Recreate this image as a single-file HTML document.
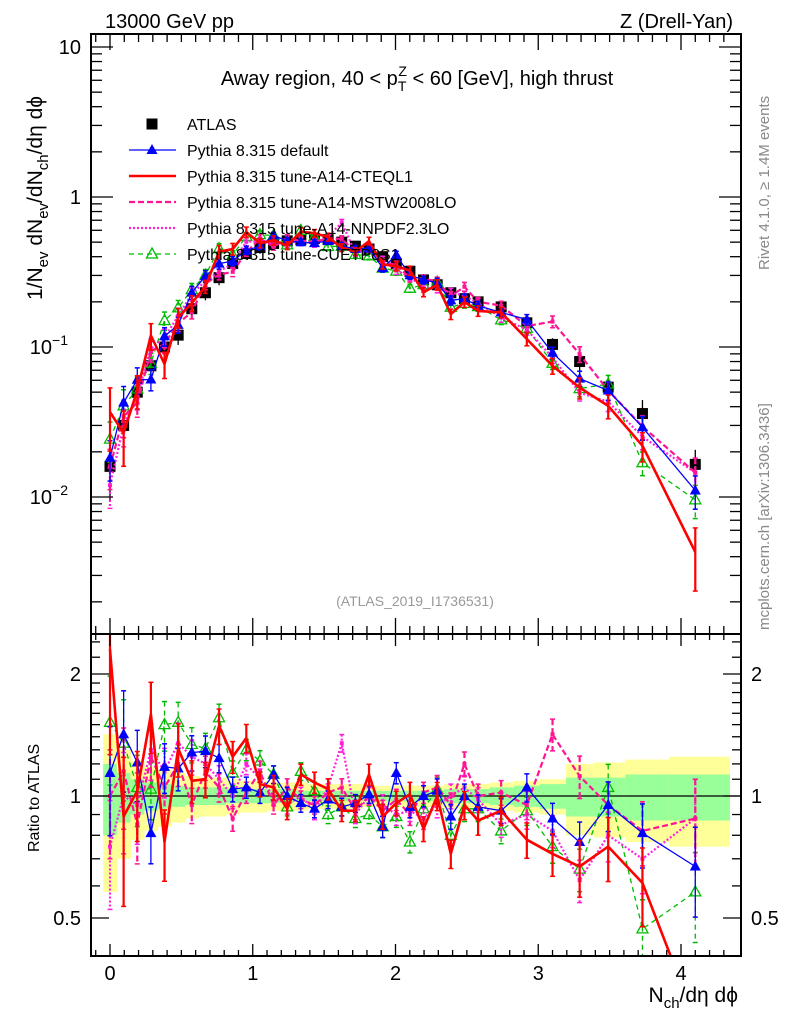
<!DOCTYPE html>
<html><head><meta charset="utf-8"><style>
html,body{margin:0;padding:0;background:#fff;width:786px;height:1024px;overflow:hidden;}
svg{display:block;font-family:"Liberation Sans",sans-serif;}
</style></head><body>
<svg id="c" width="786" height="1024" viewBox="0 0 786 1024" xmlns="http://www.w3.org/2000/svg">
<defs>
<clipPath id="clipMain"><rect x="91" y="34" width="650" height="600"/></clipPath>
<clipPath id="clipRatio"><rect x="91" y="634" width="650" height="322"/></clipPath>
</defs>
<rect x="0" y="0" width="786" height="1024" fill="#fff"/>
<g id="bands" clip-path="url(#clipRatio)"></g>
<line x1="91" x2="741" y1="796" y2="796" stroke="#000" stroke-width="1.2"/>
<g id="mainMarks" clip-path="url(#clipMain)"></g>
<g id="ratioMarks" clip-path="url(#clipRatio)"></g>
<g id="axes"></g>
<rect x="91" y="34" width="650" height="600" fill="none" stroke="#000" stroke-width="2"/>
<rect x="91" y="634" width="650" height="322" fill="none" stroke="#000" stroke-width="2"/>

<text x="105" y="28" font-size="20">13000 GeV pp</text>
<text x="733" y="28" font-size="20" text-anchor="end">Z (Drell-Yan)</text>
<text x="417" y="85" font-size="20" text-anchor="middle">Away region, 40 &lt; p<tspan font-size="14" dy="6">T</tspan><tspan font-size="14" dx="-8" dy="-15">Z</tspan><tspan dy="9"> &lt; 60 [GeV], high thrust</tspan></text>
<text x="415" y="606" font-size="14" fill="#999" text-anchor="middle">(ATLAS_2019_I1736531)</text>

<text transform="translate(42,300) rotate(-90)" font-size="21">1/N<tspan font-size="15" dy="6">ev</tspan><tspan dy="-6"> dN</tspan><tspan font-size="15" dy="6">ev</tspan><tspan dy="-6">/dN</tspan><tspan font-size="15" dy="6">ch</tspan><tspan dy="-6">/dη dϕ</tspan></text>
<text transform="translate(39,852) rotate(-90)" font-size="16">Ratio to ATLAS</text>
<text x="738" y="1002" font-size="21" text-anchor="end">N<tspan font-size="15" dy="6">ch</tspan><tspan dy="-6">/dη dϕ</tspan></text>
<text transform="translate(769,270) rotate(-90)" font-size="15" fill="#888">Rivet 4.1.0, ≥ 1.4M events</text>
<text transform="translate(769,630) rotate(-90)" font-size="15" fill="#888">mcplots.cern.ch [arXiv:1306.3436]</text>

<g id="legend"></g>
</svg>
<script>
const xs = [0,0.0955,0.191,0.2865,0.382,0.4775,0.573,0.6685,0.764,0.8595,0.955,1.0505,1.146,1.2415,1.337,1.4325,1.528,1.6235,1.719,1.8145,1.91,2.0055,2.101,2.1965,2.292,2.3875,2.483,2.5785,2.74,2.92,3.10,3.29,3.49,3.73,4.10];
const atlas = [0.016,0.030,0.050,0.075,0.10,0.12,0.18,0.23,0.29,0.36,0.42,0.46,0.49,0.51,0.52,0.53,0.52,0.50,0.47,0.45,0.40,0.36,0.32,0.28,0.26,0.23,0.21,0.20,0.185,0.145,0.104,0.080,0.054,0.036,0.0165];
const bandYellow = [0.42,0.30,0.22,0.18,0.16,0.14,0.12,0.11,0.11,0.10,0.09,0.09,0.08,0.08,0.08,0.07,0.07,0.07,0.07,0.06,0.06,0.06,0.06,0.06,0.06,0.07,0.07,0.07,0.08,0.09,0.10,0.20,0.21,0.23,0.25];
const bandGreen = [0.20,0.14,0.10,0.08,0.07,0.06,0.05,0.05,0.05,0.04,0.04,0.04,0.04,0.04,0.03,0.03,0.03,0.03,0.03,0.03,0.03,0.03,0.03,0.03,0.03,0.04,0.04,0.04,0.05,0.06,0.07,0.11,0.11,0.13,0.13];
const ratioDefault = [1.14,1.42,1.21,0.81,1.18,1.17,1.28,1.29,1.24,1.04,1.05,1.02,1.13,1.0,0.96,0.93,0.98,0.94,0.96,1.01,0.84,1.14,0.94,1.0,1.03,0.89,1.0,0.94,0.92,1.05,0.88,0.77,0.95,0.81,0.67];
const ratioCTEQ = [2.3,0.89,1.03,1.59,0.77,1.31,1.09,1.10,1.49,1.25,1.39,1.07,1.05,0.93,1.13,1.08,1.04,0.92,0.92,1.13,0.89,0.96,1.01,0.83,1.0,0.72,0.95,0.87,0.92,0.78,0.72,0.67,0.75,0.61,0.26];
const ratioMSTW = [1.0,1.15,0.85,1.25,1.05,1.2,0.95,1.15,1.05,0.88,1.02,1.15,0.95,1.05,0.98,0.95,1.02,1.05,0.92,1.0,0.92,0.98,0.90,1.02,1.05,0.95,1.2,1.0,1.02,0.95,1.42,1.12,0.95,0.82,0.88];
const ratioNNPDF = [0.75,1.0,0.95,1.3,1.15,1.35,1.25,1.2,1.1,1.0,1.2,1.1,1.0,0.95,1.0,0.92,1.05,1.35,0.9,1.0,0.95,0.9,0.92,0.88,0.95,1.0,1.05,0.98,0.85,0.9,0.82,0.62,0.8,0.70,0.88];
const ratioCUETP = [1.52,1.35,1.05,1.04,1.50,1.52,1.34,1.31,1.56,1.14,1.30,1.22,1.13,0.94,1.15,1.03,0.90,0.94,0.88,0.90,0.84,0.89,0.77,0.93,1.04,0.80,0.93,0.93,0.82,0.92,0.75,0.66,1.05,0.47,0.58];
const mcErr = [0.30,0.28,0.20,0.16,0.14,0.12,0.10,0.09,0.08,0.07,0.06,0.06,0.05,0.05,0.05,0.05,0.05,0.05,0.05,0.05,0.06,0.06,0.06,0.06,0.07,0.07,0.07,0.07,0.07,0.08,0.09,0.12,0.14,0.18,0.25];
const redErr = [0.45,0.40,0.25,0.20,0.20,0.15,0.12,0.10,0.10,0.09,0.08,0.07,0.07,0.06,0.06,0.06,0.06,0.06,0.06,0.06,0.07,0.07,0.07,0.07,0.08,0.08,0.08,0.08,0.08,0.10,0.12,0.16,0.18,0.22,0.45];
const xTicks = ["0","1","2","3","4"];
const mainYTicks = [{v:10,t:"10"},{v:1,t:"1"},{v:0.1,t:"10",e:"−1"},{v:0.01,t:"10",e:"−2"}];
const ratioYTicks = [{v:2,t:"2"},{v:1,t:"1"},{v:0.5,t:"0.5"}];

const NS="http://www.w3.org/2000/svg";
const X = u => 110 + 142.75*u;
const clampY = y => Math.max(20, Math.min(1020, y));
const YM = v => clampY(197 - 150*Math.log10(v));
const YR = r => clampY(796 - 122*Math.log2(r));
function mk(tag, attrs, parent){const e=document.createElementNS(NS,tag);for(const k in attrs)e.setAttribute(k,attrs[k]);parent.appendChild(e);return e;}

const bands=document.getElementById('bands');
function edges(i){
  const lo = i===0 ? xs[0]-0.048 : (xs[i-1]+xs[i])/2;
  const hi = i===xs.length-1 ? 4.34 : (xs[i]+xs[i+1])/2;
  return [lo,hi];
}
for(let i=0;i<xs.length;i++){
  const [lo,hi]=edges(i);
  const ry=mk('rect',{x:X(lo),width:X(hi)-X(lo)+0.5,y:YR(1+bandYellow[i]),height:YR(1-bandYellow[i])-YR(1+bandYellow[i]),fill:'#ffff99'},bands);
  
  
  const rg=mk('rect',{x:X(lo),width:X(hi)-X(lo)+0.5,y:YR(1+bandGreen[i]),height:YR(1-bandGreen[i])-YR(1+bandGreen[i]),fill:'#99ff99'},bands);
  
  
}

const series=[
  {name:'pythia-default',r:ratioDefault,err:mcErr,color:'#0000ff',w:1.3,dash:'',marker:'tri'},
  {name:'pythia-a14-cteql1',r:ratioCTEQ,err:redErr,color:'#ff0000',w:2.6,dash:'',marker:'none'},
  {name:'pythia-a14-mstw2008lo',r:ratioMSTW,err:mcErr,color:'#ff1493',w:2.2,dash:'6,3',marker:'dot'},
  {name:'pythia-a14-nnpdf23lo',r:ratioNNPDF,err:mcErr,color:'#ff22dd',w:2.2,dash:'2,2',marker:'dot'},
  {name:'pythia-cuetp8s1',r:ratioCUETP,err:mcErr,color:'#00bb00',w:1.3,dash:'5,4',marker:'otri'}
];
function drawMarker(type,x,y,color,g){
  let m=null;
  if(type==='tri') m=mk('path',{d:`M${x},${y-6}L${x+5.5},${y+4}L${x-5.5},${y+4}Z`,fill:color},g);
  else if(type==='otri') m=mk('path',{d:`M${x},${y-6}L${x+5.5},${y+4}L${x-5.5},${y+4}Z`,fill:'none',stroke:color,'stroke-width':1.3},g);
  else if(type==='dot') m=mk('rect',{x:x-2,y:y-2,width:4,height:4,fill:color},g);
  else if(type==='sq') m=mk('rect',{x:x-5.5,y:y-5.5,width:11,height:11,fill:color},g);
  return m;
}
function drawSeries(g,yf,vals,errs,s){
  const sg=mk('g',{},g);
  
  
  for(let i=0;i<xs.length;i++){
    const e=mk('line',{x1:X(xs[i]),x2:X(xs[i]),y1:yf(vals[i]*(1+errs[i])),y2:yf(Math.max(vals[i]*(1-errs[i]),1e-6)),stroke:s.color,'stroke-width':s.w>2?2.2:1.3,'stroke-dasharray':s.dash},sg);
    
    
    for(const v of [vals[i]*(1+errs[i]),vals[i]*(1-errs[i])]){
      const c=mk('line',{x1:X(xs[i])-2.5,x2:X(xs[i])+2.5,y1:yf(Math.max(v,1e-6)),y2:yf(Math.max(v,1e-6)),stroke:s.color,'stroke-width':1.5},sg);
      
      
    }
  }
  const pts=xs.map((x,i)=>X(x).toFixed(1)+','+yf(vals[i]).toFixed(1)).join(' ');
  const pl=mk('polyline',{points:pts,fill:'none',stroke:s.color,'stroke-width':s.w,'stroke-dasharray':s.dash,'stroke-linejoin':'round'},sg);
  
  
  for(let i=0;i<xs.length;i++){
    const m=drawMarker(s.marker,X(xs[i]),yf(vals[i]),s.color,sg);
    if(m){
    }
  }
}
const mainG=document.getElementById('mainMarks');
const ratioG=document.getElementById('ratioMarks');
const dg=mk('g',{},mainG);


for(let i=0;i<xs.length;i++){
  const el=mk('line',{x1:X(xs[i]),x2:X(xs[i]),y1:YM(atlas[i]*(1+bandYellow[i])),y2:YM(atlas[i]*(1-bandYellow[i])),stroke:'#000','stroke-width':1.3},dg);
  
  
  const m=drawMarker('sq',X(xs[i]),YM(atlas[i]),'#000',dg);
  
  
}
const order=[4,3,2,0,1];
for(const k of order){
  const s=series[k];
  drawSeries(mainG,YM,s.r.map((r,i)=>r*atlas[i]),s.err,s);
  drawSeries(ratioG,YR,s.r,s.err,s);
}

const ax=document.getElementById('axes');
function tick(x1,y1,x2,y2,name){const t=mk('line',{x1,y1,x2,y2,stroke:'#000','stroke-width':1.3},ax);}
for(let k=-1;k<=43;k++){
  const u=k/10; const x=X(u); if(x<92||x>740) continue;
  const major=k%10===0;
  const Lm=major?16:8, Lr=major?12:6;
  tick(x,634,x,634-Lm,'x-tick');
  tick(x,34,x,34+Lm,'x-tick');
  tick(x,956,x,956-Lr,'x-tick');
  tick(x,634,x,634+Lr,'x-tick');
}
xTicks.forEach((t,i)=>{const e=mk('text',{x:X(i),y:980,'font-size':20,'text-anchor':'middle'},ax);e.textContent=t;});
for(let d=-3;d<=1;d++){
  for(let m=1;m<=9;m++){
    const v=m*Math.pow(10,d); const y=197 - 150*Math.log10(v); if(y<35||y>633) continue;
    const L=m===1?22:11;
    tick(91,y,91+L,y,'main-y-tick'); tick(741,y,741-L,y,'main-y-tick');
  }
}
mainYTicks.forEach(o=>{
  const y=YM(o.v);
  const e=mk('text',{x:o.e?68:81,y:y+7,'font-size':20,'text-anchor':'end'},ax);
  e.textContent=o.t;
  if(o.e){const s=mk('tspan',{'font-size':14,dy:-9},e);s.textContent=o.e;}
  
  
});
const rt=[0.4,0.5,0.6,0.7,0.8,0.9,1,1.1,1.2,1.3,1.4,1.5,1.6,1.7,1.8,1.9,2,2.2,2.4];
rt.forEach(v=>{const y=YR(v); if(y<635||y>955) return; const L=(v===0.5||v===1||v===2)?18:9;
  tick(91,y,91+L,y,'ratio-y-tick'); tick(741,y,741-L,y,'ratio-y-tick');});
ratioYTicks.forEach(o=>{
  const y=YR(o.v);
  const e=mk('text',{x:81,y:y+7,'font-size':20,'text-anchor':'end'},ax);e.textContent=o.t;
  
  const e2=mk('text',{x:751,y:y+7,'font-size':20},ax);e2.textContent=o.t;
  
});

const lg=document.getElementById('legend');
const legendItems=[
  {label:'ATLAS',color:'#000',marker:'sq',dash:'',w:0},
  {label:'Pythia 8.315 default',color:'#0000ff',marker:'tri',dash:'',w:1.3},
  {label:'Pythia 8.315 tune-A14-CTEQL1',color:'#ff0000',marker:'none',dash:'',w:2.6},
  {label:'Pythia 8.315 tune-A14-MSTW2008LO',color:'#ff1493',marker:'none',dash:'6,3',w:2.2},
  {label:'Pythia 8.315 tune-A14-NNPDF2.3LO',color:'#ff22dd',marker:'none',dash:'2,2',w:2.2},
  {label:'Pythia 8.315 tune-CUETP8S1',color:'#00bb00',marker:'otri',dash:'5,4',w:1.3}
];
legendItems.forEach((it,i)=>{
  const y=124+26*i;
  const g=mk('g',{},lg);
  
  
  if(it.w) mk('line',{x1:129,x2:176,y1:y,y2:y,stroke:it.color,'stroke-width':it.w,'stroke-dasharray':it.dash},g);
  drawMarker(it.marker,152,y,it.color,g);
  const t=mk('text',{x:187,y:y+6,'font-size':16},g);t.textContent=it.label;
});
</script>
</body></html>
